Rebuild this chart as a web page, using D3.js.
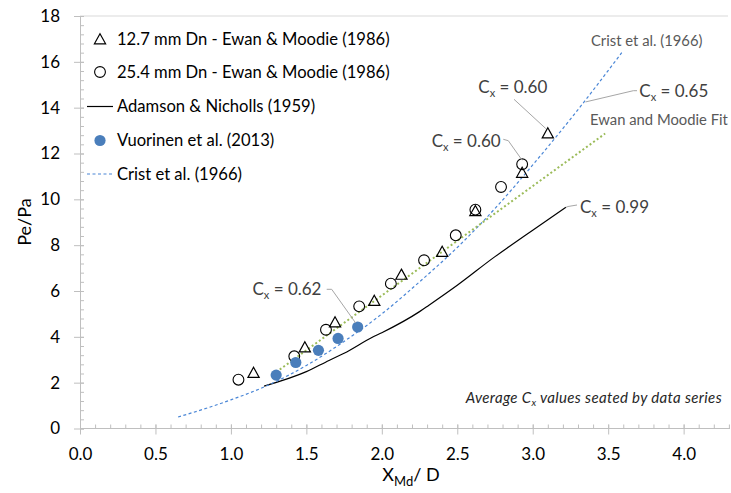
<!DOCTYPE html>
<html>
<head>
<meta charset="utf-8">
<script src="https://cdn.jsdelivr.net/npm/d3@7"></script>
<style>
  html, body { margin: 0; padding: 0; background: #fff; }
  svg { display: block; font-family: Lato, "Noto Sans", sans-serif; }
</style>
</head>
<body>
<svg id="chart" width="731" height="493"></svg>
<script>
// Ewan & Moodie (1986), 12.7 mm nozzle
const triX = [1.15, 1.49, 1.69, 1.95, 2.13, 2.40, 2.62, 2.93, 3.10];
const triY = [2.42, 3.53, 4.62, 5.56, 6.70, 7.70, 9.48, 11.15, 12.87];
// Ewan & Moodie (1986), 25.4 mm nozzle
const circX = [1.05, 1.42, 1.63, 1.85, 2.06, 2.28, 2.49, 2.62, 2.79, 2.93];
const circY = [2.13, 3.15, 4.31, 5.33, 6.32, 7.34, 8.43, 9.55, 10.54, 11.53];
// Vuorinen et al. (2013)
const vuoX = [1.30, 1.43, 1.58, 1.71, 1.84];
const vuoY = [2.33, 2.88, 3.41, 3.93, 4.43];
// Adamson & Nicholls (1959)
const adamX = [1.22, 1.50, 1.65, 1.75, 1.94, 2.00, 2.25, 2.31, 2.50, 2.75, 2.84, 3.00, 3.22];
const adamY = [1.85, 2.48, 2.97, 3.28, 3.99, 4.18, 5.10, 5.37, 6.25, 7.50, 7.92, 8.65, 9.65];
// Crist et al. (1966)
const cristX = [0.65, 1.00, 1.25, 1.50, 1.75, 2.00, 2.25, 2.50, 2.75, 3.00, 3.25, 3.59];
const cristY = [0.50, 1.25, 1.90, 2.75, 3.80, 5.00, 6.40, 7.90, 9.60, 11.50, 13.50, 16.40];
// Ewan and Moodie fit
const fitX = [1.30, 3.48];
const fitY = [2.46, 12.87];

const xTicks = [0, 0.5, 1, 1.5, 2, 2.5, 3, 3.5, 4];
const yTicks = [0, 2, 4, 6, 8, 10, 12, 14, 16, 18];

const legendLabels = [
  "12.7 mm Dn - Ewan & Moodie (1986)",
  "25.4 mm Dn - Ewan & Moodie (1986)",
  "Adamson & Nicholls (1959)",
  "Vuorinen et al. (2013)",
  "Crist et al. (1966)"
];

const svg = d3.select("#chart");
const x = d3.scaleLinear().domain([0, 4.3]).range([80, 728.9]);
const y = d3.scaleLinear().domain([0, 18]).range([428.5, 16]);

const axisColor = "#bfbfbf";
const blue = "#4a7ebb";
const dashBlue = "#4a86d6";
const green = "#9bbb59";
const labelGray = "#404040";

// top boundary line at 18
svg.append("line").attr("x1", x(0)).attr("x2", 728).attr("y1", y(18)).attr("y2", y(18))
  .attr("stroke", "#d9d9d9").attr("stroke-width", 1);

// x axis: major ticks below, minor ticks above
const xAxisG = svg.append("g").attr("transform", `translate(0,${y(0)})`);
xAxisG.call(d3.axisBottom(x).tickValues(d3.range(0, 4.301, 0.1)).tickSize(0).tickFormat(""));
xAxisG.select(".domain").attr("stroke", axisColor).attr("d", `M${x(0)},0H730`);
xAxisG.selectAll(".tick line").remove();
xAxisG.selectAll(".tick").append("line").attr("y1", -4).attr("y2", 0).attr("stroke", axisColor);
const xMajor = svg.append("g").attr("transform", `translate(0,${y(0)})`)
  .call(d3.axisBottom(x).tickValues(xTicks).tickSize(6).tickPadding(13).tickFormat(d3.format(".1f")));
xMajor.select(".domain").remove();
xMajor.selectAll(".tick line").attr("stroke", axisColor).attr("y1", -4);
xMajor.selectAll(".tick text").attr("font-size", 17).attr("fill", "#000").attr("font-family", "Lato");

// y axis: major ticks crossing, minor ticks inside
const yAxisG = svg.append("g").attr("transform", `translate(${x(0)},0)`);
yAxisG.call(d3.axisLeft(y).tickValues(d3.range(0, 18.01, 0.4)).tickSize(0).tickFormat(""));
yAxisG.select(".domain").attr("stroke", axisColor);
yAxisG.selectAll(".tick").append("line").attr("x1", 0).attr("x2", 4).attr("stroke", axisColor);
const yMajor = svg.append("g").attr("transform", `translate(${x(0)},0)`)
  .call(d3.axisLeft(y).tickValues(yTicks).tickSize(6).tickPadding(14));
yMajor.select(".domain").remove();
yMajor.selectAll(".tick line").attr("stroke", axisColor).attr("x2", 4).attr("x1", -6);
yMajor.selectAll(".tick text").attr("font-size", 17).attr("fill", "#000").attr("font-family", "Lato");

// axis titles
svg.append("text").attr("transform", "translate(31,222) rotate(-90)")
  .attr("text-anchor", "middle").attr("font-size", 18).attr("fill", "#000").text("Pe/Pa");
const xt = svg.append("text").attr("x", 411).attr("y", 481).attr("text-anchor", "middle")
  .attr("font-size", 18).attr("fill", "#000");
xt.append("tspan").text("X");
xt.append("tspan").attr("font-size", 13).attr("dy", 4.5).text("Md");
xt.append("tspan").attr("dy", -4.5).text("/ D");

// lines
const line = d3.line().x(d => x(d[0])).y(d => y(d[1]));
const zip = (a, b) => a.map((v, i) => [v, b[i]]);

svg.append("path").datum(zip(adamX, adamY)).attr("d", line.curve(d3.curveMonotoneX))
  .attr("fill", "none").attr("stroke", "#000").attr("stroke-width", 1.2);
line.curve(d3.curveLinear);
svg.append("path").datum(zip(cristX, cristY)).attr("d", d3.line().x(d => x(d[0])).y(d => y(d[1])).curve(d3.curveMonotoneX))
  .attr("fill", "none").attr("stroke", dashBlue).attr("stroke-width", 1.2).attr("stroke-dasharray", "3,2.5");
svg.append("path").datum(zip(fitX, fitY)).attr("d", line)
  .attr("fill", "none").attr("stroke", green).attr("stroke-width", 2).attr("stroke-dasharray", "2,2.4");

// markers
const triPath = "M0,-5.8L5.6,4.3L-5.6,4.3Z";
svg.append("g").selectAll("path").data(zip(triX, triY)).join("path")
  .attr("transform", d => `translate(${x(d[0])},${y(d[1])})`)
  .attr("d", triPath).attr("fill", "none").attr("stroke", "#000").attr("stroke-width", 1.2);
svg.append("g").selectAll("circle").data(zip(circX, circY)).join("circle")
  .attr("cx", d => x(d[0])).attr("cy", d => y(d[1])).attr("r", 5.4)
  .attr("fill", "none").attr("stroke", "#000").attr("stroke-width", 1.1);
svg.append("g").selectAll("circle").data(zip(vuoX, vuoY)).join("circle")
  .attr("cx", d => x(d[0])).attr("cy", d => y(d[1])).attr("r", 5.6)
  .attr("fill", blue);

// legend
const legendY = [39.5, 72, 106.5, 140.5, 174];
const lg = svg.append("g");
legendLabels.forEach((t, i) => {
  lg.append("text").attr("x", 117).attr("y", legendY[i]).attr("dy", "0.36em")
    .attr("font-size", 16.6).attr("fill", "#000").text(t);
});
lg.append("path").attr("transform", `translate(100,${legendY[0]})`).attr("d", triPath)
  .attr("fill", "none").attr("stroke", "#000").attr("stroke-width", 1.2);
lg.append("circle").attr("cx", 100).attr("cy", legendY[1]).attr("r", 5.4)
  .attr("fill", "none").attr("stroke", "#000").attr("stroke-width", 1.1);
lg.append("line").attr("x1", 87).attr("x2", 113).attr("y1", legendY[2]).attr("y2", legendY[2])
  .attr("stroke", "#000").attr("stroke-width", 1.2);
lg.append("circle").attr("cx", 100).attr("cy", legendY[3]).attr("r", 5.6).attr("fill", blue);
lg.append("line").attr("x1", 87).attr("x2", 113).attr("y1", legendY[4]).attr("y2", legendY[4])
  .attr("stroke", dashBlue).attr("stroke-width", 1.2).attr("stroke-dasharray", "3,2.5");

// Cx annotation labels
function cxLabel(px, py, value, anchor) {
  const t = svg.append("text").attr("x", px).attr("y", py).attr("font-size", 17)
    .attr("fill", labelGray).attr("text-anchor", anchor || "start");
  t.append("tspan").text("C");
  t.append("tspan").attr("font-size", 11).attr("dy", 4).text("x");
  t.append("tspan").attr("dy", -4).text(" = " + value);
  return t;
}
function leader(pts) {
  svg.append("path").attr("d", d3.line()(pts)).attr("fill", "none")
    .attr("stroke", "#a6a6a6").attr("stroke-width", 1);
}

// Vuorinen
cxLabel(321.5, 295, "0.62", "end");
const v4 = [x(vuoX[4]), y(vuoY[4])];
leader([[326.7, 289.3], [331.7, 289.3], [v4[0] - 2, v4[1] - 4]]);

// 12.7 mm (last triangle)
cxLabel(547.3, 92.7, "0.60", "end");
const t8 = [x(triX[8]), y(triY[8])];
leader([[514, 99.3], [t8[0] - 2, t8[1] - 5]]);

// 25.4 mm (last circle)
cxLabel(500.7, 146.7, "0.60", "end");
const c9 = [x(circX[9]), y(circY[9])];
leader([[503.3, 139.3], [508.3, 140.7], [c9[0], c9[1] - 4]]);

// Crist
cxLabel(639.3, 96.7, "0.65");
leader([[x(3.35), y(14.25)], [633.3, 90.7], [637, 90.7]]);

// Adamson
cxLabel(580, 212.7, "0.99");
leader([[x(adamX[adamX.length - 1]), y(adamY[adamY.length - 1])], [568, 206.5], [577, 205]]);

// series captions
svg.append("text").attr("x", 591).attr("y", 46).attr("font-size", 14.8)
  .attr("fill", "#595959").text("Crist et al. (1966)");
svg.append("text").attr("x", 590).attr("y", 125).attr("font-size", 14.8)
  .attr("fill", "#595959").text("Ewan and Moodie Fit");

// footnote
const note = svg.append("text").attr("x", 722).attr("y", 402.5).attr("text-anchor", "end")
  .attr("font-size", 15).attr("letter-spacing", 0.35).attr("font-style", "italic").attr("fill", "#262626");
note.append("tspan").text("Average C");
note.append("tspan").attr("font-size", 10).attr("dy", 3).text("x");
note.append("tspan").attr("dy", -3).text(" values seated by data series");
</script>
</body>
</html>
